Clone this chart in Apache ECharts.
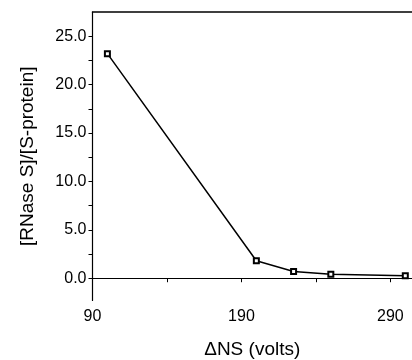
<!DOCTYPE html>
<html>
<head>
<meta charset="utf-8">
<script src="https://cdn.jsdelivr.net/npm/echarts@6/dist/echarts.min.js"></script>
<style>
html,body{margin:0;padding:0;background:#fff;}
#c{width:412px;height:360px;}
</style>
</head>
<body>
<div id="c"></div>
<script>
const xValues = [100, 200, 225, 250, 300];
const yValues = [23.2, 1.8, 0.7, 0.4, 0.25];
const xTickLabels = [90, 190, 290];
const xTicks = [90, 140, 190, 240, 290];
const yTickLabels = [0, 5, 10, 15, 20, 25];
const yTicks = [0, 2.5, 5, 7.5, 10, 12.5, 15, 17.5, 20, 22.5, 25];

const font = "'Liberation Sans', Arial, Helvetica, sans-serif";
const chart = echarts.init(document.getElementById('c'), null, {renderer: 'canvas'});
chart.setOption({
  animation: false,
  backgroundColor: '#fff',
  grid: {left: 92.5, right: 0, top: 12, bottom: 59.5, containLabel: false, outerBoundsMode: 'none'},
  xAxis: [{
    type: 'value', min: 90, max: 304.5,
    name: 'ΔNS (volts)', nameLocation: 'middle', nameGap: 40,
    nameTextStyle: {fontFamily: font, fontSize: 19, color: '#000'},
    axisLine: {lineStyle: {color: '#000', width: 1.2}},
    axisTick: {customValues: xTicks, length: 4, inside: false, lineStyle: {color: '#000'}},
    axisLabel: {customValues: xTickLabels, fontFamily: font, fontSize: 16, color: '#000', margin: 8},
    splitLine: {show: false}
  }, {
    type: 'value', position: 'top', min: 90, max: 304.5,
    axisLine: {show: true, onZero: false, lineStyle: {color: '#000', width: 1.5}},
    axisTick: {show: false}, axisLabel: {show: false}, splitLine: {show: false}
  }],
  yAxis: {
    type: 'value', min: -2.3, max: 27.5,
    name: '[RNase S]/[S-protein]', nameLocation: 'middle', nameGap: 55, nameRotate: 90,
    nameTextStyle: {fontFamily: font, fontSize: 19, color: '#000'},
    axisLine: {onZero: false, lineStyle: {color: '#000', width: 1.2}},
    axisTick: {customValues: yTicks, length: 4, lineStyle: {color: '#000'}},
    axisLabel: {customValues: yTickLabels, fontFamily: font, fontSize: 16, color: '#000', margin: 6,
      formatter: v => v.toFixed(1)},
    splitLine: {show: false}
  },
  series: [{
    type: 'line',
    data: xValues.map((x, i) => [x, yValues[i]]),
    symbol: 'emptyRect', symbolSize: 5,
    itemStyle: {color: '#000', borderColor: '#000', borderWidth: 1.2},
    lineStyle: {color: '#000', width: 1.5}
  }]
});
</script>
</body>
</html>
